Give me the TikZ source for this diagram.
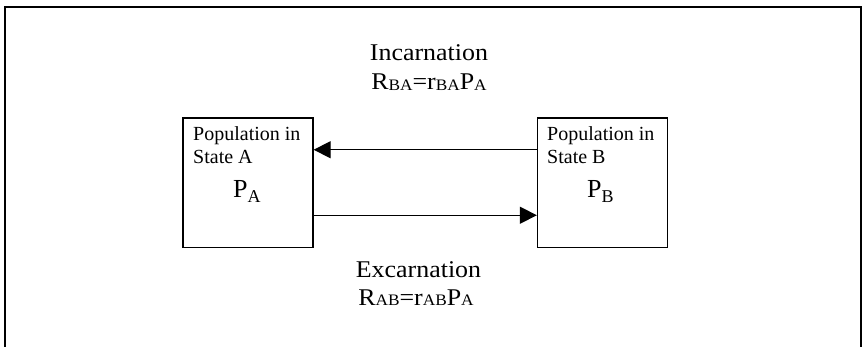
\documentclass[tikz,border=0pt]{standalone}
\usepackage{fontspec}
\setmainfont{Liberation Serif}
\usetikzlibrary{arrows.meta}

% low-set subscript used in the rate formulas
\newcommand\lowsub[3]{\raisebox{-#3}{\fontsize{#1}{#1}\selectfont #2}}
\newcommand\bigtext[1]{\scalebox{1.08}[1]{\fontsize{24}{24}\selectfont #1}}

\begin{document}
\begin{tikzpicture}[x=1pt,y=-1pt,
  statebox/.style={draw,line width=1.3pt,minimum width=130pt,minimum height=129.5pt,inner sep=0pt},
  boxtext/.style={anchor=base west,inner sep=0pt,font=\fontsize{20}{20}\selectfont},
  poptext/.style={anchor=base west,inner sep=0pt,font=\fontsize{26}{26}\selectfont},
  label/.style={anchor=base,inner sep=0pt},
  flow/.style={line width=1.3pt,-{Triangle[length=17pt,width=17pt]}}]
  \useasboundingbox (0,0) rectangle (864,347);

  % outer frame (open at the bottom)
  \draw[line width=2pt] (5,347) -- (5,7) -- (861,7) -- (861,347);

  % the two population boxes
  \node[statebox] (boxA) at (248,182.75) {};
  \node[statebox] (boxB) at (602.5,182.75) {};

  \node[boxtext] (popA1) at (193,141) {Population in};
  \node[boxtext] (popA2) at (193,164) {State A};
  \node[poptext] (symA) at (233,198) {P\lowsub{18}{A}{5pt}};

  \node[boxtext] (popB1) at (547,141) {Population in};
  \node[boxtext] (popB2) at (547,164) {State B};
  \node[poptext] (symB) at (587,198) {P\lowsub{18}{B}{5pt}};

  % transfer arrows
  \draw[flow] ([yshift=33pt]boxB.west) -- ([yshift=33pt]boxA.east);
  \draw[flow] ([yshift=-32.5pt]boxA.east) -- ([yshift=-32.5pt]boxB.west);

  % rate labels
  \node[label] (inc) at (429,61) {\bigtext{Incarnation}};
  \node[label] (incrate) at (429,90) {\bigtext{R\lowsub{16}{BA}{1pt}=r\lowsub{16}{BA}{1pt}P\lowsub{16}{A}{1pt}}};
  \node[label] (exc) at (418.5,277) {\bigtext{Excarnation}};
  \node[label] (excrate) at (416,305) {\bigtext{R\lowsub{16}{AB}{1pt}=r\lowsub{16}{AB}{1pt}P\lowsub{16}{A}{1pt}}};
\end{tikzpicture}
\end{document}
